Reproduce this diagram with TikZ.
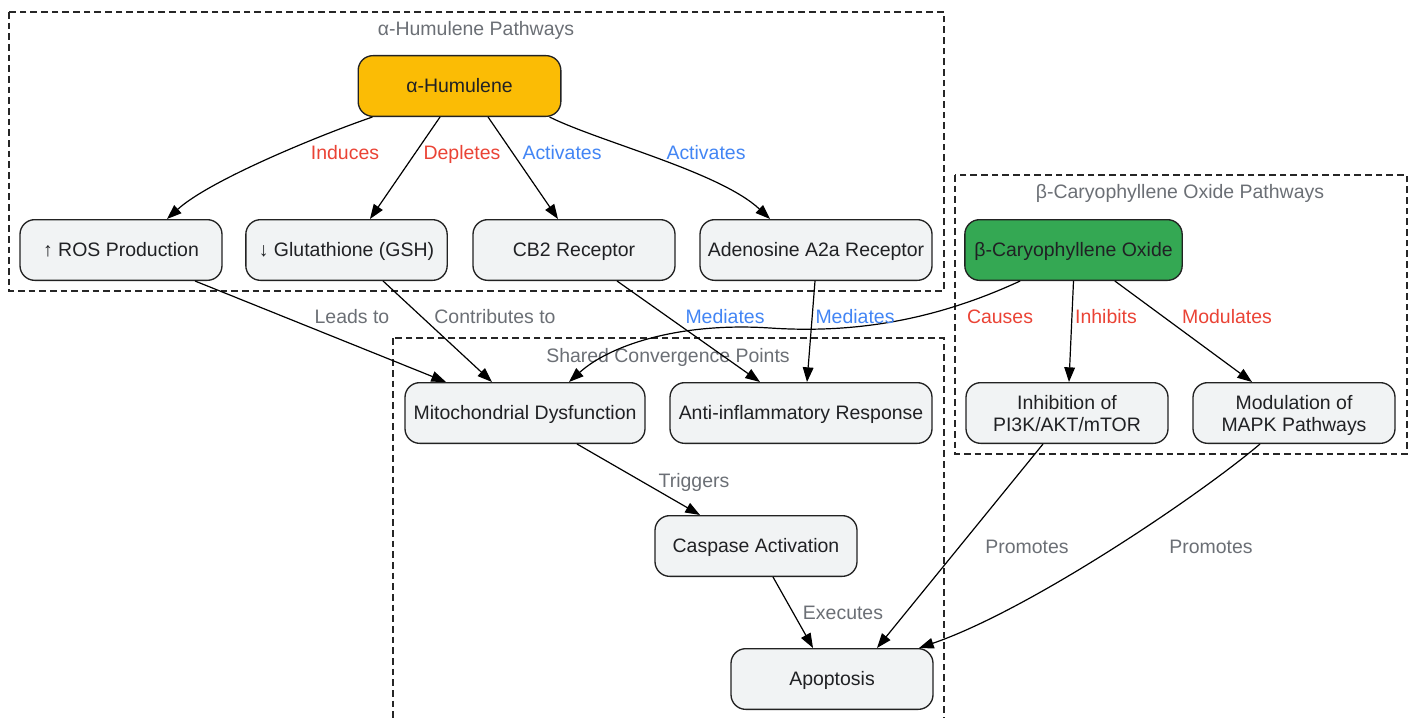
\documentclass[tikz,border=0pt]{standalone}
\usepackage{fontspec}
\setmainfont{Liberation Sans}
\usetikzlibrary{arrows.meta}
\definecolor{nodefill}{HTML}{F1F3F4}
\definecolor{nodeline}{HTML}{222222}
\definecolor{txt}{HTML}{202124}
\definecolor{amber}{HTML}{FBBC05}
\definecolor{gr}{HTML}{34A853}
\definecolor{lred}{HTML}{EA4335}
\definecolor{lblue}{HTML}{4285F4}
\definecolor{lgray}{HTML}{6B6F75}
\newcommand{\myfont}{\fontsize{14.6}{16.5}\selectfont}
\newcommand{\twolines}[2]{\begin{tabular}{@{}c@{}}#1\\#2\end{tabular}}
\tikzset{
  boxbase/.style={draw=nodeline, line width=1pt, fill=nodefill, rounded corners=11pt,
    minimum height=45.5pt, text=txt, font=\myfont, inner sep=2pt},
  box/.style={boxbase, text height=1em, text depth=0pt},
  mbox/.style={boxbase, text height=11.8pt, text depth=0pt},
  lbase/.style={font=\myfont, text height=1em, text depth=0pt, inner sep=0pt},
  cluster/.style={draw=black!85, line width=0.9pt, dash pattern=on 5pt off 3pt},
  clabel/.style={lbase, text=lgray},
  conn/.style={draw=black, line width=0.9pt, -{Triangle[length=11pt,width=8pt]}},
  lr/.style={lbase, text=lred},
  lb/.style={lbase, text=lblue},
  lg/.style={lbase, text=lgray},
}
\begin{document}
\begin{tikzpicture}[x=0.75pt,y=-0.75pt]
\useasboundingbox (0,0) rectangle (1412,717);
% clusters
\draw[cluster] (9,12) rectangle (944,291);
\node[clabel] (cla) at (476,29) {α-Humulene Pathways};
\draw[cluster] (955,175) rectangle (1407,454);
\node[clabel] (clb) at (1180,192) {β-Caryophyllene Oxide Pathways};
\draw[cluster] (393,338) rectangle (944,730);
\node[clabel] (clc) at (668,356) {Shared Convergence Points};
% nodes
\node[box, fill=amber, minimum width=152pt] (hum) at (459.5,86) {α-Humulene};
\node[box, minimum width=151.5pt] (ros) at (121,250) {↑ ROS Production};
\node[box, minimum width=151pt] (gsh) at (346.5,250) {↓ Glutathione (GSH)};
\node[box, minimum width=151.5pt] (cb2) at (574,250) {CB2 Receptor};
\node[box, minimum width=174pt] (a2a) at (816,250) {Adenosine A2a Receptor};
\node[box, fill=gr, minimum width=163pt] (bco) at (1073.5,250) {β-Caryophyllene Oxide};
\node[box, minimum width=180pt] (mito) at (525,413) {Mitochondrial Dysfunction};
\node[box, minimum width=196.5pt] (anti) at (801,413) {Anti-inflammatory Response};
\node[mbox, minimum width=151.5pt] (pi3k) at (1067,413) {\twolines{Inhibition of}{PI3K/AKT/mTOR}};
\node[mbox, minimum width=151.5pt] (mapk) at (1294,413) {\twolines{Modulation of}{MAPK Pathways}};
\node[box, minimum width=151.5pt] (casp) at (756,546) {Caspase Activation};
\node[box, minimum width=151.5pt] (apop) at (832,679) {Apoptosis};
% edges
\draw[conn] ([xshift=11.25pt]hum.south west) .. controls (320,135) and (210,180) .. ([xshift=34.5pt]ros.north);
\draw[conn] ([xshift=-14.6pt]hum.south) -- ([xshift=17.6pt]gsh.north);
\draw[conn] ([xshift=21.4pt]hum.south) -- ([xshift=-12pt]cb2.north);
\draw[conn] ([xshift=-9pt]hum.south east) .. controls (600,142) and (720,172) .. ([xshift=-34.5pt]a2a.north);
\draw[conn] ([xshift=55.5pt]ros.south) -- ([xshift=-59.25pt]mito.north);
\draw[conn] ([xshift=27.4pt]gsh.south) -- ([xshift=-24.75pt]mito.north);
\draw[conn] ([xshift=32.25pt]cb2.south) -- ([xshift=-30.75pt]anti.north);
\draw[conn] ([xshift=-0.75pt]a2a.south) -- ([xshift=4.5pt]anti.north);
\draw[conn] ([xshift=-40pt]bco.south) .. controls (940,318) and (860,334) .. (770,328) .. controls (680,322) and (610,345) .. ([xshift=33pt]mito.north);
\draw[conn] (bco.south) -- ([xshift=1.5pt]pi3k.north);
\draw[conn] ([xshift=31pt]bco.south) -- ([xshift=-31.5pt]mapk.north);
\draw[conn] ([xshift=39pt]mito.south) -- ([xshift=-42pt]casp.north);
\draw[conn] ([xshift=12.75pt]casp.south) -- ([xshift=-14.25pt]apop.north);
\draw[conn] ([xshift=-18pt]pi3k.south) -- ([xshift=33.75pt]apop.north);
\draw[conn] ([xshift=-25.5pt]mapk.south) .. controls (1200,495) and (1030,610) .. ([xshift=65.25pt]apop.north);
% edge labels
\node[lr] (l1) at (345,153) {Induces};
\node[lr] (l2) at (462,153) {Depletes};
\node[lb] (l3) at (562,153) {Activates};
\node[lb] (l4) at (706,153) {Activates};
\node[lg] (l5) at (352,317) {Leads to};
\node[lg] (l6) at (495,317) {Contributes to};
\node[lb] (l7) at (725,317) {Mediates};
\node[lb] (l8) at (855,317) {Mediates};
\node[lr] (l9) at (1000,317) {Causes};
\node[lr] (l10) at (1106,317) {Inhibits};
\node[lr] (l11) at (1227,317) {Modulates};
\node[lg] (l12) at (694,481) {Triggers};
\node[lg] (l13) at (843,613) {Executes};
\node[lg] (l14) at (1027,547) {Promotes};
\node[lg] (l15) at (1211,547) {Promotes};
\end{tikzpicture}
\end{document}
